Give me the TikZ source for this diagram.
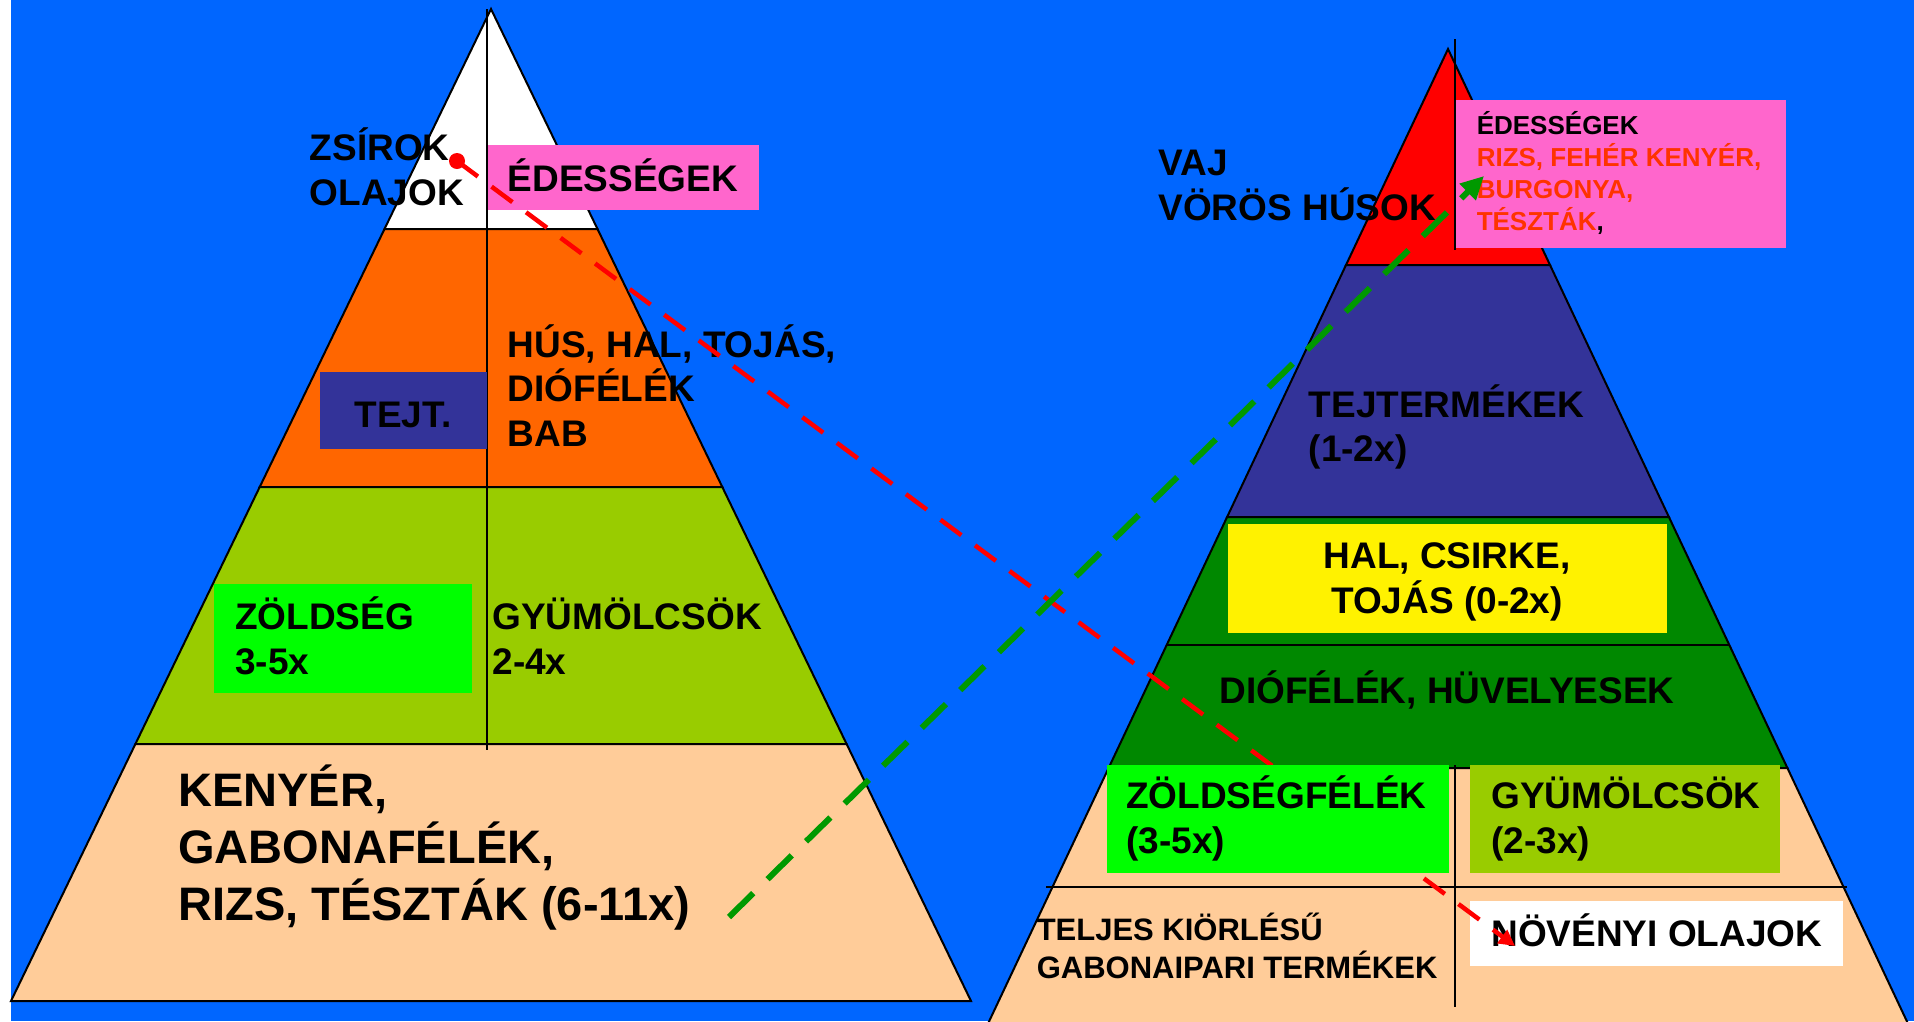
\documentclass[tikz,border=0pt]{standalone}
\usepackage{fontspec}
\setmainfont{Liberation Sans}
\usetikzlibrary{arrows.meta}

\definecolor{bgblue}{HTML}{0066FF}
\definecolor{pinkbox}{HTML}{FF66CC}
\definecolor{orangelayer}{HTML}{FF6600}
\definecolor{limelayer}{HTML}{99CC00}
\definecolor{peachlayer}{HTML}{FFCC99}
\definecolor{navylayer}{HTML}{333399}
\definecolor{darkgreen}{HTML}{008800}
\definecolor{brightgreen}{HTML}{00FF00}
\definecolor{arrowgreen}{HTML}{009900}
\definecolor{redtext}{HTML}{FF3300}

\tikzset{every picture/.style={line width=1.5pt}}
\tikzset{
  layer/.style={draw=black, line width=2pt},
  lbl/.style={inner sep=0pt, align=left, anchor=base west,
    font=\bfseries\fontsize{37}{44.5}\selectfont},
  biglbl/.style={lbl, font=\bfseries\fontsize{47}{57}\selectfont},
  smalllbl/.style={lbl, font=\bfseries\fontsize{26}{31.7}\selectfont},
}

\begin{document}
\begin{tikzpicture}[x=1pt,y=-1pt]
  \useasboundingbox (0,0) rectangle (1914,1021);
  \fill[white] (0,0) rectangle (1914,1021);
  \fill[bgblue] (11,0) rectangle (1914,1021);

  % regi piramis
  \filldraw[layer, fill=white] (491,9) -- (597.5,229) -- (384.5,229) -- cycle;
  \filldraw[layer, fill=orangelayer] (384.5,229) -- (597.5,229) -- (722.3,487) -- (259.7,487) -- cycle;
  \filldraw[layer, fill=limelayer] (259.7,487) -- (722.3,487) -- (846.6,744) -- (135.4,744) -- cycle;
  \filldraw[layer, fill=peachlayer] (135.4,744) -- (846.6,744) -- (971,1001) -- (11,1001) -- cycle;
  \draw (487,9) -- (487,750);
  \fill[pinkbox] (487.5,145) rectangle (759,210);
  \fill[navylayer] (320,372) rectangle (487,449);
  \fill[brightgreen] (214,584) rectangle (471.5,693);

  % uj piramis
  \filldraw[layer, fill=red] (1448,49) -- (1550,265) -- (1346,265) -- cycle;
  \filldraw[layer, fill=navylayer] (1346,265) -- (1550,265) -- (1668.9,517) -- (1227.1,517) -- cycle;
  \filldraw[layer, fill=darkgreen] (1227.1,517) -- (1668.9,517) -- (1787.4,768) -- (1108.6,768) -- cycle;
  \draw[layer] (1166.7,645) -- (1729.3,645);
  \filldraw[layer, fill=peachlayer] (1108.6,768) -- (1787.4,768) -- (1911,1030) -- (985,1030) -- cycle;
  \fill[pinkbox] (1455,100) rectangle (1786,248);
  \fill[yellow] (1228,524) rectangle (1667,633);
  \fill[limelayer] (1470,765) rectangle (1780,873);
  \fill[white] (1470,901) rectangle (1843,966);
  \draw (1455,39) -- (1455,250);
  \draw (1455,765) -- (1455,1007);
  \draw[layer] (1046,887) -- (1847,887);

  % feliratok (tobbsoros: az utolso sor alapvonala)
  \node[lbl] (zsirok) at (309,205) {ZSÍROK\\OLAJOK};
  \node[lbl] (edes) at (507,191) {ÉDESSÉGEK};
  \node[lbl] (hus) at (507,446) {HÚS, HAL, TOJÁS,\\DIÓFÉLÉK\\BAB};
  \node[lbl, anchor=base] (tejt) at (403,427) {TEJT.};
  \node[lbl] (zoldseg) at (234.5,674) {ZÖLDSÉG\\3-5x};
  \node[lbl] (gyumolcs) at (491.7,674) {GYÜMÖLCSÖK\\2-4x};
  \node[biglbl] (kenyer) at (177.6,920.7) {KENYÉR,\\GABONAFÉLÉK,\\RIZS, TÉSZTÁK (6-11x)};

  \node[lbl] (vaj) at (1157.7,220) {VAJ\\VÖRÖS HÚSOK};
  \node[smalllbl] (edesuj) at (1476,230) {ÉDESSÉGEK\\\textcolor{redtext}{RIZS, FEHÉR KENYÉR,}\\\textcolor{redtext}{BURGONYA,}\\\textcolor{redtext}{TÉSZTÁK},};
  \node[lbl] (tejtermek) at (1308,461.7) {TEJTERMÉKEK\\(1-2x)};
  \node[lbl, align=center, anchor=base] (hal) at (1447,613.3) {HAL, CSIRKE,\\TOJÁS (0-2x)};
  \node[lbl, anchor=base] (dio) at (1447,703.3) {DIÓFÉLÉK, HÜVELYESEK};
  \node[lbl] (gyumuj) at (1490.6,853.3) {GYÜMÖLCSÖK\\(2-3x)};
  \node[lbl, font=\bfseries\fontsize{31}{37.6}\selectfont] (teljes) at (1036,978.3) {TELJES KIÖRLÉSŰ\\GABONAIPARI TERMÉKEK};
  \node[lbl] (novenyi) at (1490.6,946.7) {NÖVÉNYI OLAJOK};

  % nyilak
  \coordinate (zsirpont) at (457,161);
  \coordinate (olajveg) at (1515,946);
  \coordinate (kenyerpont) at (729,917);
  \coordinate (edesveg) at (1484,176);
  \fill[red] (zsirpont) circle (8);
  \draw[red, line width=4.5pt, dash pattern=on 26pt off 17pt,
    -{Triangle[length=16pt,width=16pt]}] (zsirpont) -- (olajveg);
  \draw[arrowgreen, line width=6pt, dash pattern=on 34pt off 20pt,
    -{Triangle[length=23pt,width=22pt]}] (kenyerpont) -- (edesveg);

  \fill[brightgreen] (1107,765) rectangle (1448.6,873);
  \node[lbl] (zoldfele) at (1125.5,853.3) {ZÖLDSÉGFÉLÉK\\(3-5x)};
\end{tikzpicture}
\end{document}
